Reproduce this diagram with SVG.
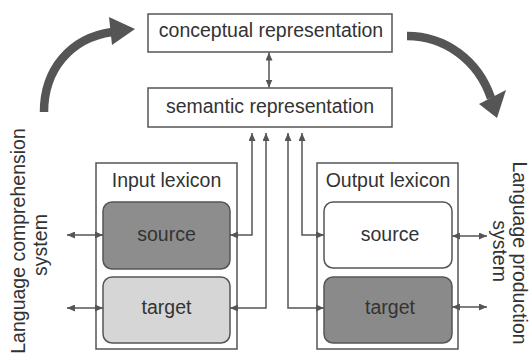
<svg xmlns="http://www.w3.org/2000/svg" width="530" height="354" viewBox="0 0 530 354">
<defs>
<marker id="ah" viewBox="0 0 8 7" refX="8" refY="3.5" markerWidth="8" markerHeight="7" markerUnits="userSpaceOnUse" orient="auto-start-reverse">
<path d="M0,0 L8,3.5 L0,7 z" fill="#555"/>
</marker>
</defs>
<style>
text{font-family:"Liberation Sans",Arial,sans-serif;font-size:19.5px;fill:#333;text-anchor:middle}
.box{fill:#fff;stroke:#555;stroke-width:1.5}
.inner{stroke:#555;stroke-width:1.5}
.con{fill:none;stroke:#555;stroke-width:1.5;marker-start:url(#ah);marker-end:url(#ah)}
.big{fill:none;stroke:#555;stroke-width:8.5}
.head{fill:#555}
</style>
<rect width="530" height="354" fill="#fff"/>
<g id="conceptual">
<rect class="box" x="148" y="14" width="244" height="38"/>
<text x="271" y="37">conceptual representation</text>
</g>
<g id="semantic">
<rect class="box" x="148" y="88" width="244" height="39"/>
<text x="270" y="113">semantic representation</text>
</g>
<g id="input-lexicon">
<rect class="box" x="96" y="163" width="141" height="186"/>
<text x="166.5" y="187">Input lexicon</text>
</g>
<g id="input-source">
<rect class="inner" x="103" y="202" width="127" height="67" rx="9" fill="#8d8d8d"/>
<text x="166.5" y="241">source</text>
</g>
<g id="input-target">
<rect class="inner" x="103" y="277" width="127" height="66" rx="9" fill="#d6d6d6"/>
<text x="166.5" y="314">target</text>
</g>
<g id="output-lexicon">
<rect class="box" x="317" y="163" width="141" height="186"/>
<text x="388" y="187">Output lexicon</text>
</g>
<g id="output-source">
<rect class="inner" x="324" y="202" width="128" height="66" rx="9" fill="#fff"/>
<text x="390" y="241">source</text>
</g>
<g id="output-target">
<rect class="inner" x="324" y="277" width="128" height="66" rx="9" fill="#8a8a8a"/>
<text x="390" y="314">target</text>
</g>
<g id="comprehension-label">
<text transform="translate(25,241) rotate(-90)">Language comprehension</text>
<text transform="translate(47,245) rotate(-90)">system</text>
</g>
<g id="production-label">
<text transform="translate(513,253) rotate(90)">Language production</text>
<text transform="translate(493,251) rotate(90)">system</text>
</g>
<g id="connectors">
<line class="con" x1="269" y1="52.5" x2="269" y2="87.5"/>
<polyline class="con" points="252,133 252,235 230,235"/>
<polyline class="con" points="266,133 266,308 230,308"/>
<polyline class="con" points="302,133 302,235 324,235"/>
<polyline class="con" points="288,133 288,308 324,308"/>
<line class="con" x1="67" y1="235" x2="103" y2="235"/>
<line class="con" x1="67" y1="308" x2="103" y2="308"/>
<line class="con" x1="452" y1="236" x2="487" y2="236"/>
<line class="con" x1="452" y1="307" x2="487" y2="307"/>
<path class="big" d="M44,112 C44,70 70,38 112,32"/>
<polygon class="head" points="109,17 135,29 112,45"/>
<path class="big" d="M407,36 C445,36 478,60 491,98"/>
<polygon class="head" points="479,104 506,90 497,118"/>
</g>
</svg>
